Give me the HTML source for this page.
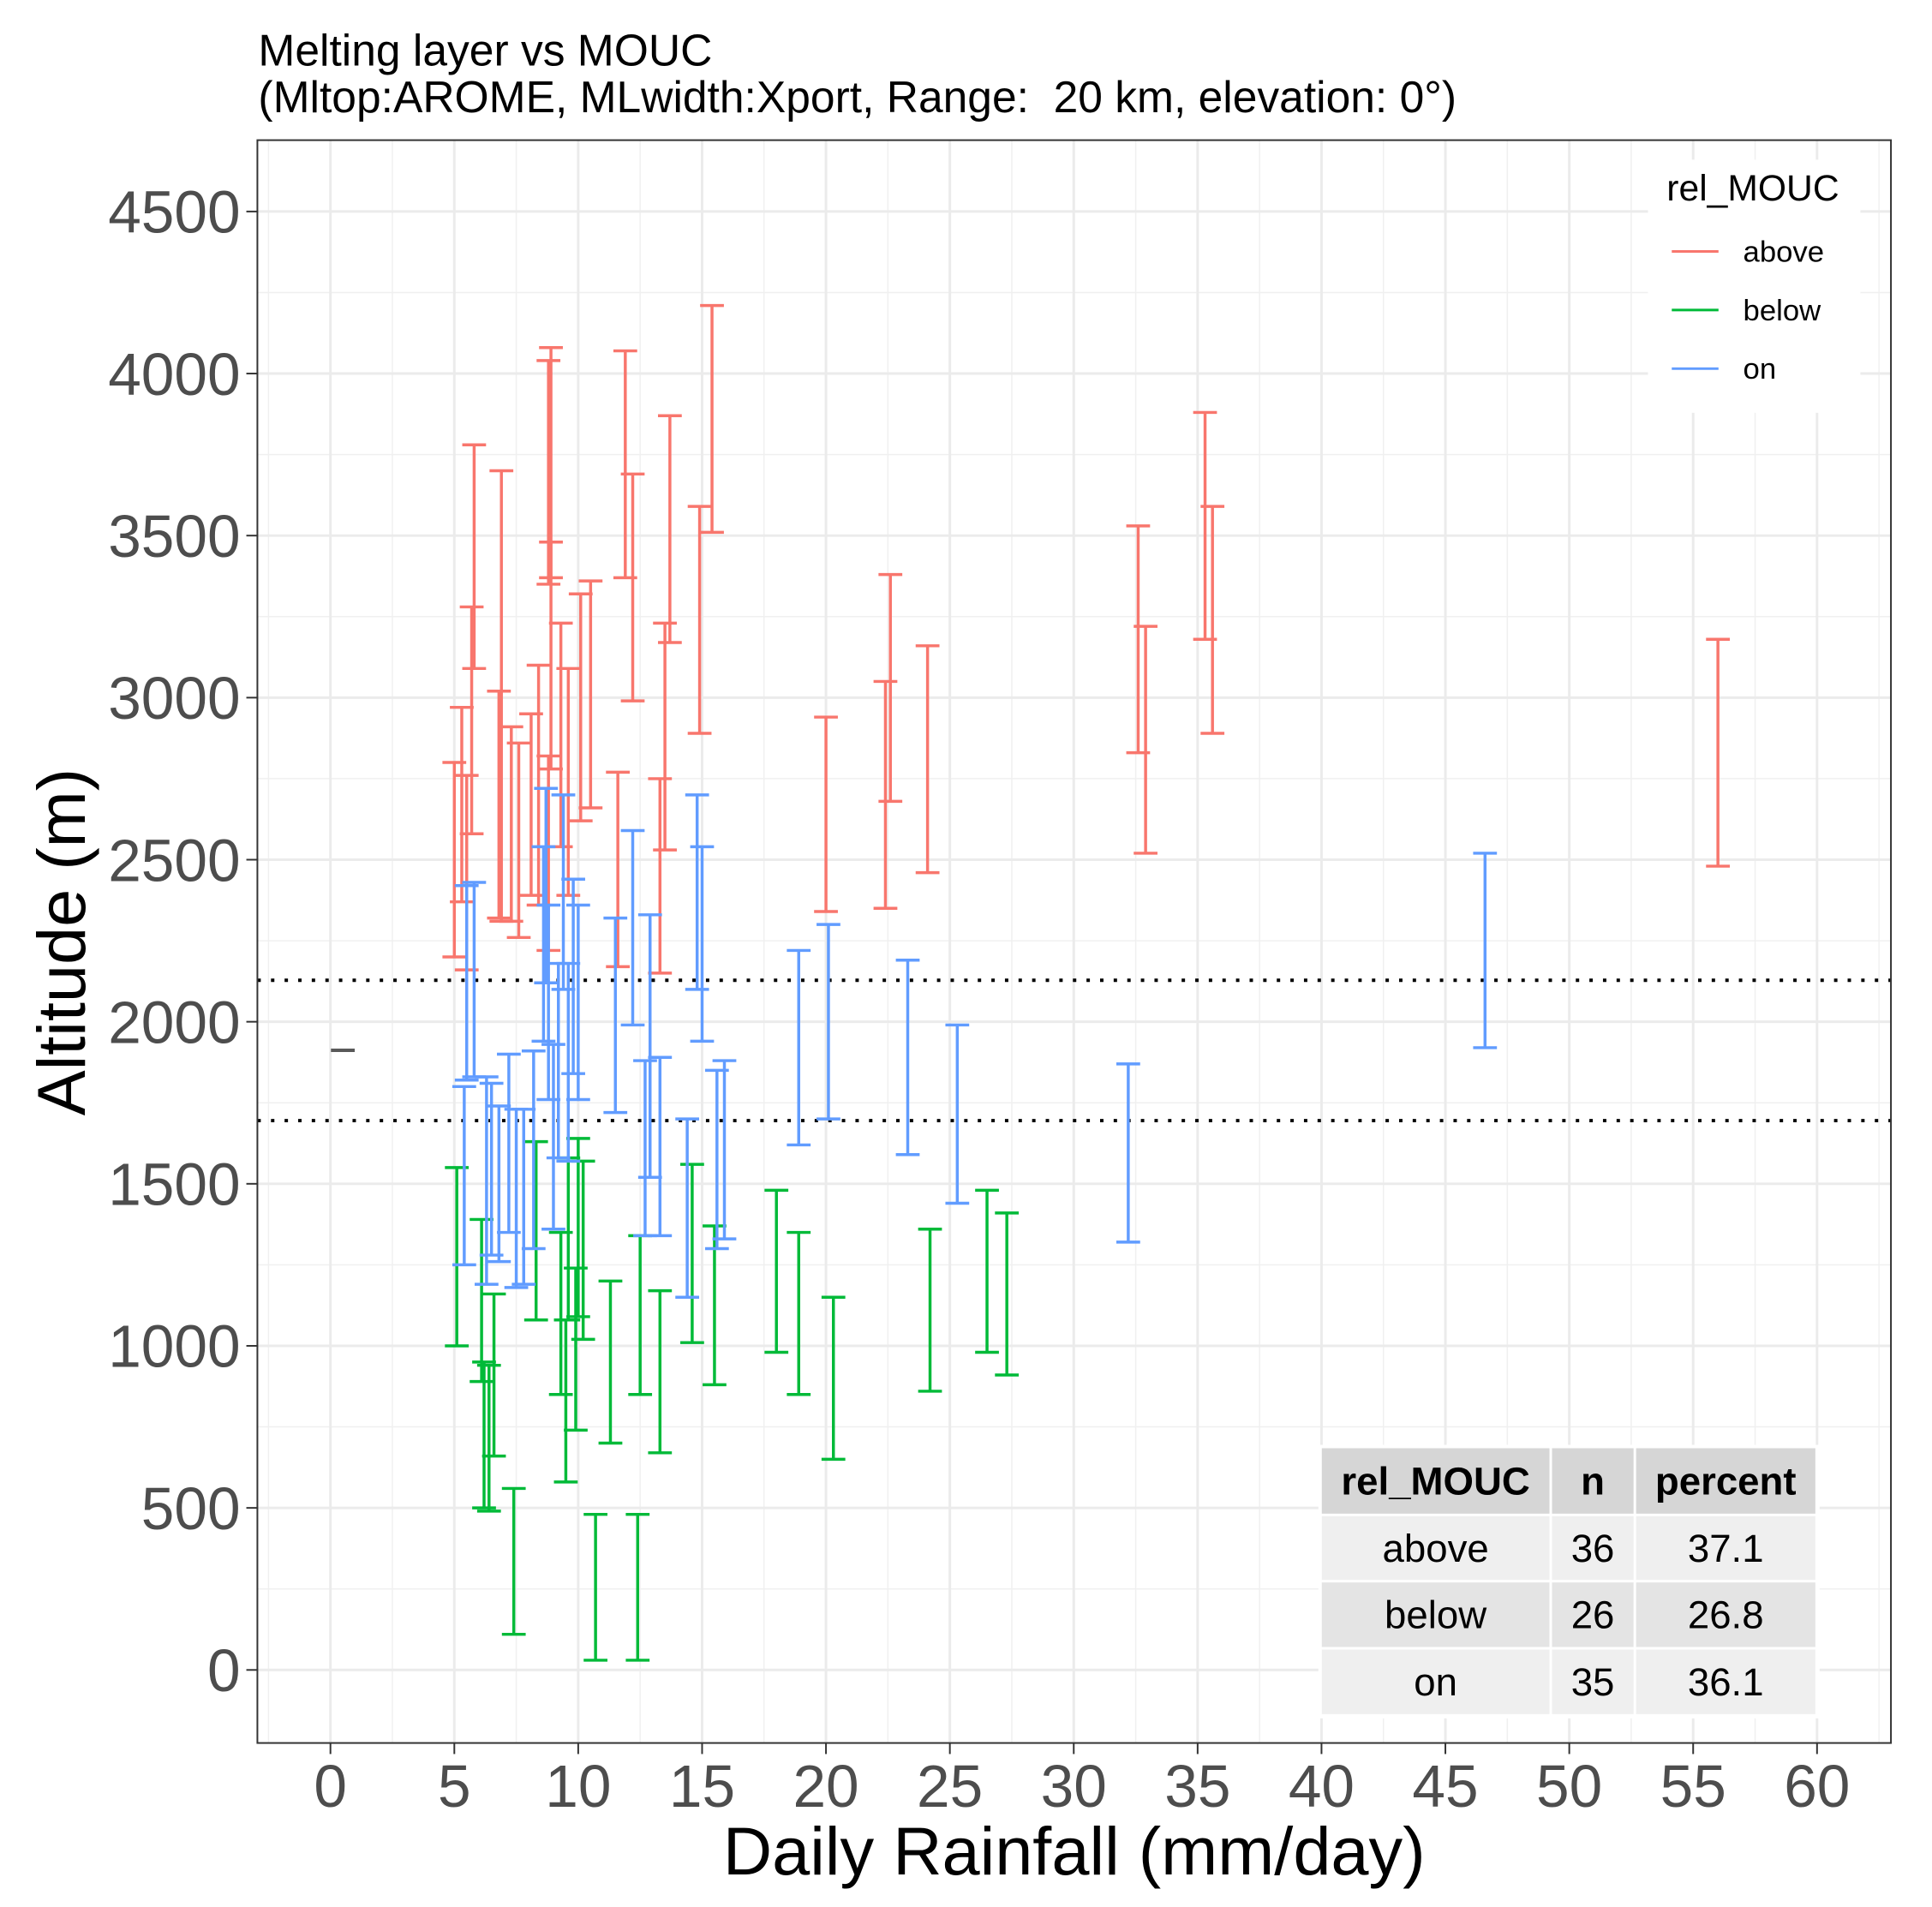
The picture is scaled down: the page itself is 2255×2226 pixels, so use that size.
<!DOCTYPE html>
<html><head><meta charset="utf-8">
<style>
html,body{margin:0;padding:0;background:#fff;}
svg{display:block;font-family:"Liberation Sans",sans-serif;}
</style></head>
<body>
<svg id="chart" width="2255" height="2226" viewBox="0 0 2255 2226" xmlns="http://www.w3.org/2000/svg">
<g id="root" transform="scale(0.9915)">
<text x="304" y="77" font-size="52" fill="#000">Melting layer vs MOUC</text>
<text x="304" y="132" font-size="52" fill="#000">(Mltop:AROME, MLwidth:Xport, Range:&#160; 20 km, elevation: 0°)</text>
<g id="grid"></g>
<g id="marks"></g>
<g id="axes"></g>
</g>
</svg>
<script>
const xTicks = [0,5,10,15,20,25,30,35,40,45,50,55,60];
const yTicks = [0,500,1000,1500,2000,2500,3000,3500,4000,4500];
const seriesNames = ["above","below","on"];
const seriesColors = ["#F8766D","#00BA38","#619CFF"];
const aboveX = [5.0,5.3,5.5,5.7,5.8,6.8,6.9,7.3,7.6,8.1,8.4,8.8,8.8,8.9,8.9,9.3,9.6,10.1,10.5,11.6,11.9,12.2,13.3,13.5,13.7,14.9,15.4,20.0,22.4,22.6,24.1,32.6,32.9,35.3,35.6,56.0];
const aboveLo = [2200,2370,2160,2580,3090,2320,2310,2310,2260,2390,2360,2220,3350,3370,2780,2540,2390,2620,2660,2170,3370,2990,2150,2530,3170,2890,3510,2340,2350,2680,2460,2830,2520,3180,2890,2480];
const aboveHi = [2800,2970,2760,3280,3780,3020,3700,2910,2860,2950,3100,2820,4040,4080,3480,3230,3090,3320,3360,2770,4070,3690,2750,3230,3870,3590,4210,2940,3050,3380,3160,3530,3220,3880,3590,3180];
const onX = [5.4,5.5,5.8,6.3,6.5,6.8,7.2,7.5,7.8,8.2,8.6,8.8,8.7,9.0,9.2,9.4,9.6,9.8,10.0,11.5,12.2,12.7,12.9,13.3,14.4,14.8,15.0,15.6,15.9,18.9,20.1,23.3,25.3,32.2,46.6];
const onLo = [1250,1820,1830,1190,1280,1260,1350,1180,1190,1300,1940,1760,2120,1360,1580,2100,1570,1840,1760,1720,1990,1340,1520,1340,1150,2100,1940,1300,1330,1620,1700,1590,1440,1320,1920];
const onHi = [1800,2420,2430,1830,1810,1740,1900,1730,1730,1910,2540,2360,2720,1930,2180,2700,2180,2440,2360,2320,2590,1880,2330,1890,1700,2700,2540,1850,1880,2220,2300,2190,1990,1870,2520];
const belowX = [5.1,6.1,6.2,6.4,6.6,7.4,8.3,9.3,9.5,9.6,9.9,10.0,10.2,11.3,10.7,12.4,12.5,13.3,14.6,15.5,18.0,18.9,20.3,24.2,26.5,27.3];
const belowLo = [1000,890,500,490,660,110,1080,850,580,1080,740,1090,1020,700,30,30,850,670,1010,880,980,850,650,860,980,910];
const belowHi = [1550,1390,950,940,1160,560,1630,1350,1080,1580,1240,1640,1570,1200,480,480,1340,1170,1560,1370,1480,1350,1150,1360,1480,1410];
const refLines = [2128,1695];
const naX = [0.5]; const naY = [1912];
const tableRows = [["above","36","37.1"],["below","26","26.8"],["on","35","36.1"]];

const NS="http://www.w3.org/2000/svg";
const PL=303,PR=2226,PT=165,PB=2052;
const X0=389, XS=(2139-389)/60;
const Y0=1966, YS=(1966-249)/4500;
const sx=v=>X0+v*XS, sy=v=>Y0-v*YS;
function mk(tag,attrs,parent){const e=document.createElementNS(NS,tag);for(const k in attrs)e.setAttribute(k,attrs[k]);parent.appendChild(e);return e;}
const grid=document.getElementById('grid'), marks=document.getElementById('marks'), axes=document.getElementById('axes');

let bg=mk('rect',{x:PL,y:PT,width:PR-PL,height:PB-PT,fill:'#fff'},grid);


for(let v=-2.5;v<=62.5;v+=5){const l=mk('line',{x1:sx(v),x2:sx(v),y1:PT,y2:PB,stroke:'#f0f0f0','stroke-width':1.5},grid);}
for(let v=-250;v<=4750;v+=500){if(sy(v)<PT||sy(v)>PB)continue;const l=mk('line',{x1:PL,x2:PR,y1:sy(v),y2:sy(v),stroke:'#f0f0f0','stroke-width':1.5},grid);}
xTicks.forEach(v=>{const l=mk('line',{x1:sx(v),x2:sx(v),y1:PT,y2:PB,stroke:'#ebebeb','stroke-width':3},grid);});
yTicks.forEach(v=>{const l=mk('line',{x1:PL,x2:PR,y1:sy(v),y2:sy(v),stroke:'#ebebeb','stroke-width':3},grid);});

refLines.forEach(v=>{const l=mk('line',{x1:PL,x2:PR,y1:sy(v),y2:sy(v),stroke:'#000','stroke-width':4,'stroke-dasharray':'4 12'},marks);});

const CAP=14;
function bars(xs,lo,hi,color,name){
  xs.forEach((x,i)=>{
    const g=mk('g',{stroke:color,'stroke-width':3.5,fill:'none'},marks);
    
    
    const cx=sx(x),y1=sy(hi[i]),y2=sy(lo[i]);
    mk('line',{x1:cx,x2:cx,y1:y1,y2:y2},g);
    mk('line',{x1:cx-CAP,x2:cx+CAP,y1:y1,y2:y1},g);
    mk('line',{x1:cx-CAP,x2:cx+CAP,y1:y2,y2:y2},g);
  });
}
bars(aboveX,aboveLo,aboveHi,seriesColors[0],'above');
bars(belowX,belowLo,belowHi,seriesColors[1],'below');
bars(onX,onLo,onHi,seriesColors[2],'on');
naX.forEach((x,i)=>{const l=mk('line',{x1:sx(x)-14,x2:sx(x)+14,y1:sy(naY[i]),y2:sy(naY[i]),stroke:'#595959','stroke-width':4},marks);});

let br=mk('rect',{x:PL,y:PT,width:PR-PL,height:PB-PT,fill:'none',stroke:'#333','stroke-width':2},axes);


xTicks.forEach(v=>{
  mk('line',{x1:sx(v),x2:sx(v),y1:PB,y2:PB+13,stroke:'#333','stroke-width':2},axes);
  const t=mk('text',{x:sx(v),y:2127,'font-size':70,'text-anchor':'middle',fill:'#4d4d4d'},axes);
  t.textContent=v;
  
  
});
yTicks.forEach(v=>{
  mk('line',{x1:PL-13,x2:PL,y1:sy(v),y2:sy(v),stroke:'#333','stroke-width':2},axes);
  const t=mk('text',{x:283,y:sy(v)+25,'font-size':70,'text-anchor':'end',fill:'#4d4d4d'},axes);
  t.textContent=v;
  
  
});
let xt=mk('text',{x:(PL+PR)/2,y:2207,'font-size':80,'text-anchor':'middle',fill:'#000'},axes);
xt.textContent='Daily Rainfall (mm/day)';


let yt=mk('text',{x:0,y:0,'font-size':80,'text-anchor':'middle',fill:'#000',transform:'translate(100,1109) rotate(-90)'},axes);
yt.textContent='Altitude (m)';



const lg=mk('g',{},axes);


mk('rect',{x:1940,y:188,width:250,height:298,fill:'#fff'},lg);
let lt=mk('text',{x:1962,y:236,'font-size':43,fill:'#000'},lg);
lt.textContent='rel_MOUC';


seriesNames.forEach((n,i)=>{
  const y=296+i*69;
  const e=mk('g',{},lg);
  
  
  mk('line',{x1:1968,x2:2023,y1:y,y2:y,stroke:seriesColors[i],'stroke-width':3},e);
  const t=mk('text',{x:2052,y:y+12,'font-size':35,fill:'#000'},e);
  t.textContent=n;
});

const tb=mk('g',{},axes);


const cols=[[1556,1824],[1827,1923],[1926,2137]];
const rowsY=[[1705,1782],[1785,1860],[1863,1939],[1942,2018]];
mk('rect',{x:1552,y:1701,width:590,height:322,fill:'#fff'},tb);
const head=['rel_MOUC','n','percent'];
rowsY.forEach((r,ri)=>{
  cols.forEach((c,ci)=>{
    const fill=ri===0?'#d6d6d6':(ri%2===1?'#efefef':'#e4e4e4');
    mk('rect',{x:c[0],y:r[0],width:c[1]-c[0],height:r[1]-r[0],fill:fill},tb);
    const t=mk('text',{x:(c[0]+c[1])/2,y:(r[0]+r[1])/2+16,'font-size':46,'text-anchor':'middle',fill:'#000','font-weight':ri===0?'bold':'normal'},tb);
    t.textContent=ri===0?head[ci]:tableRows[ri-1][ci];
    
    
  });
});
</script>
</body></html>
